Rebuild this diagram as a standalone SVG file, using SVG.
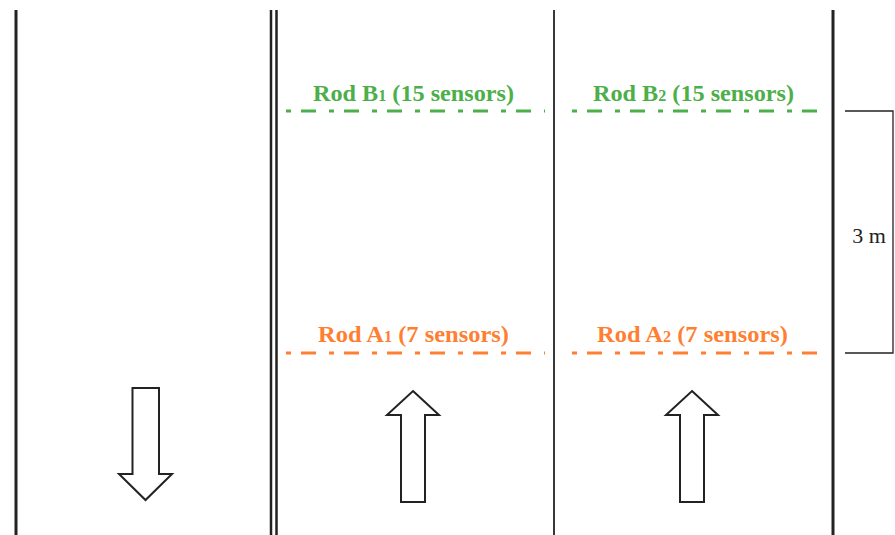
<svg xmlns="http://www.w3.org/2000/svg" width="895" height="535" viewBox="0 0 895 535">
  <style>
    .wall { stroke: #222; fill: none; }
    .rodB { stroke: #4DAF4A; stroke-width: 3; stroke-dasharray: 5 10 15 13; fill: none; }
    .rodA { stroke: #FF7F32; stroke-width: 3; stroke-dasharray: 5 10 15 13; fill: none; }
    .lblB { font-family: "Liberation Serif", serif; font-weight: bold; font-size: 24px; fill: #4DAF4A; }
    .lblA { font-family: "Liberation Serif", serif; font-weight: bold; font-size: 24px; fill: #FF7F32; }
    .sub { font-size: 16px; }
    .flow { fill: #fff; stroke: #222; stroke-width: 2; stroke-linejoin: miter; }
    .dim { stroke: #222; stroke-width: 1.3; fill: none; }
    .dimtxt { font-family: "Liberation Serif", serif; font-size: 22px; fill: #222; text-anchor: middle; }
  </style>

  <!-- lane boundaries -->
  <g id="walls">
    <line class="wall" x1="16" y1="10" x2="16" y2="535" stroke-width="3"/>
    <line class="wall" x1="271" y1="10" x2="271" y2="535" stroke-width="2.5"/>
    <line class="wall" x1="276.5" y1="10" x2="276.5" y2="535" stroke-width="2.5"/>
    <line class="wall" x1="554" y1="10" x2="554" y2="535" stroke-width="1.8"/>
    <line class="wall" x1="833" y1="10" x2="833" y2="535" stroke-width="3"/>
  </g>

  <!-- sensor rods -->
  <g id="rodB1">
    <line class="rodB" x1="286" y1="111" x2="545" y2="111"/>
    <text class="lblB" x="313" y="101" textLength="201" lengthAdjust="spacingAndGlyphs">Rod B<tspan class="sub">1</tspan> (15 sensors)</text>
  </g>
  <g id="rodB2">
    <line class="rodB" x1="572" y1="111" x2="820" y2="111"/>
    <text class="lblB" x="593" y="101" textLength="201" lengthAdjust="spacingAndGlyphs">Rod B<tspan class="sub">2</tspan> (15 sensors)</text>
  </g>
  <g id="rodA1">
    <line class="rodA" x1="286" y1="353" x2="545" y2="353"/>
    <text class="lblA" x="318" y="342" textLength="191" lengthAdjust="spacingAndGlyphs">Rod A<tspan class="sub">1</tspan> (7 sensors)</text>
  </g>
  <g id="rodA2">
    <line class="rodA" x1="572" y1="353" x2="820" y2="353"/>
    <text class="lblA" x="597" y="342" textLength="191" lengthAdjust="spacingAndGlyphs">Rod A<tspan class="sub">2</tspan> (7 sensors)</text>
  </g>

  <!-- traffic direction arrows -->
  <g id="arrowDown">
    <polygon class="flow" points="132.5,388 159,388 159,474 172,474 145.5,500 119,474 132.5,474"/>
  </g>
  <g id="arrowUp1">
    <polygon class="flow" points="413,391 439,415 425,415 425,502 401,502 401,415 387,415"/>
  </g>
  <g id="arrowUp2">
    <polygon class="flow" points="692,391 718,415 704,415 704,502 680,502 680,415 666,415"/>
  </g>

  <!-- spacing dimension -->
  <g id="dimension">
    <polyline class="dim" points="845,111 893,111 893,353 845,353"/>
    <text class="dimtxt" x="869" y="243">3 m</text>
  </g>
</svg>
